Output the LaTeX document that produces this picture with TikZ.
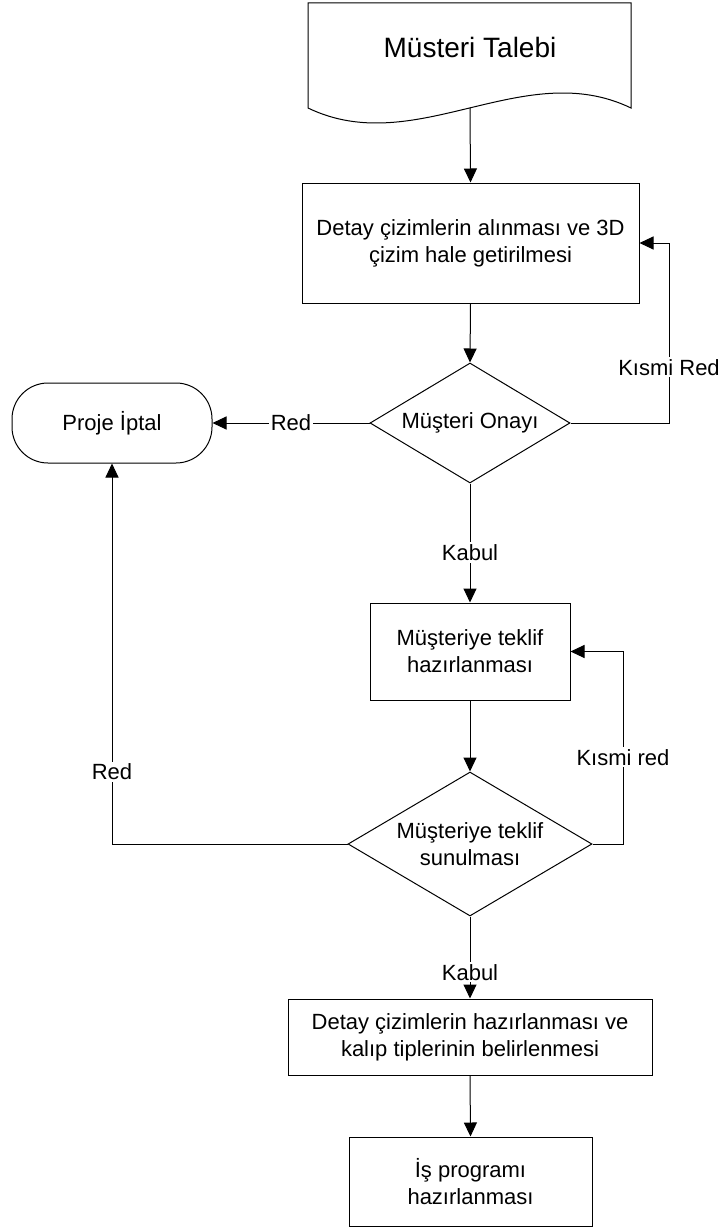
\documentclass[tikz,border=0pt]{standalone}
\usepackage{fontspec}
\setmainfont{Liberation Sans}
\usetikzlibrary{arrows.meta,shapes.geometric}
\tikzset{
  base/.style={draw, line width=1pt, align=center, inner sep=0pt,
    font=\fontsize{22}{27}\selectfont},
  procbox/.style={base, rectangle},
  decbox/.style={base, diamond},
  termbox/.style={base, rectangle, rounded corners=36pt},
  conn/.style={line width=1pt, -{Triangle[length=14pt,width=13pt]}},
  line/.style={line width=1pt},
  lbl/.style={fill=white, inner sep=2pt, font=\fontsize{22}{27}\selectfont}
}
\begin{document}
\begin{tikzpicture}[x=1pt,y=-1pt]
\useasboundingbox (0,0) rectangle (725,1228);
% document shape
\draw[line width=1pt] (308,3) -- (631,3) -- (631,108)
  .. controls (523.3,56) and (415.7,160) .. (308,108) -- cycle;
\node[font=\fontsize{28}{32}\selectfont] (talep) at (470,47) {Müsteri Talebi};
\coordinate (docb) at (470,108);

\node[procbox, minimum width=337pt, minimum height=120pt] (b1) at (470.5,243)
  {Detay çizimlerin alınması ve 3D\\çizim hale getirilmesi};
\node[decbox, minimum width=200pt, minimum height=120pt, aspect=1.667] (d1) at (470,423)
  {Müşteri Onayı};
\node[termbox, minimum width=200pt, minimum height=80pt] (iptal) at (112,423)
  {Proje İptal};
\node[procbox, minimum width=200pt, minimum height=97pt] (b2) at (470,651.5)
  {Müşteriye teklif\\hazırlanması};
\node[decbox, minimum width=244pt, minimum height=144pt, aspect=1.694] (d2) at (470,844)
  {Müşteriye teklif\\sunulması};
\node[procbox, minimum width=364pt, minimum height=76pt] (b3) at (470,1037)
  {Detay çizimlerin hazırlanması ve\\kalıp tiplerinin belirlenmesi};
\node[procbox, minimum width=243pt, minimum height=89pt] (b4) at (470.5,1181.5)
  {İş programı\\hazırlanması};

\coordinate (k1a) at (669,423);
\coordinate (k1b) at (669,243);
\coordinate (k2a) at (623,844);
\coordinate (k2b) at (623,651.5);
\coordinate (r2) at (112,844);

\draw[conn] (docb) -- (b1.north);
\draw[conn] (b1.south) -- (d1.north);
\draw[conn] (d1.west) -- node[lbl] (lred1) {Red} (iptal.east);
\draw[conn] (d1.east) -- (k1a) -- node[lbl, pos=0.31] (lkr1) {Kısmi Red} (k1b) -- (b1.east);
\draw[conn] (d1.south) -- node[lbl, pos=0.58] (lkab1) {Kabul} (b2.north);
\draw[conn] (b2.south) -- (d2.north);
\draw[conn] (d2.east) -- (k2a) -- node[lbl, pos=0.45] (lkr2) {Kısmi red} (k2b) -- (b2.east);
\draw[conn] (d2.west) -- (r2) -- node[lbl, pos=0.19] (lred2) {Red} (iptal.south);
\draw[conn] (d2.south) -- node[lbl, pos=0.68] (lkab2) {Kabul} (b3.north);
\draw[conn] (b3.south) -- (b4.north);
\end{tikzpicture}
\end{document}
